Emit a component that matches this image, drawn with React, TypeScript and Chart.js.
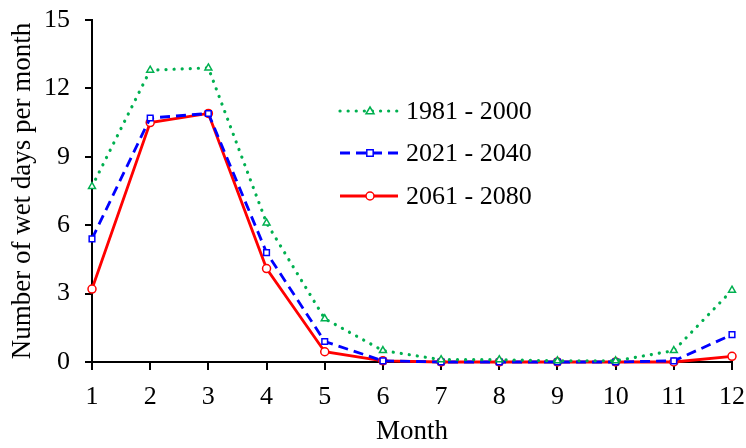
import React, { useEffect, useRef } from "react";
import { Chart, registerables } from "chart.js";
Chart.register(...registerables);

const months = ["1", "2", "3", "4", "5", "6", "7", "8", "9", "10", "11", "12"];
const seriesNames = ["1981 - 2000", "2021 - 2040", "2061 - 2080"];
const period1981 = [7.7, 12.8, 12.9, 6.1, 1.9, 0.5, 0.1, 0.1, 0.05, 0.05, 0.5, 3.15];
const period2021 = [5.4, 10.7, 10.9, 4.8, 0.9, 0.05, 0, 0, 0, 0, 0.05, 1.2];
const period2061 = [3.2, 10.5, 10.9, 4.1, 0.45, 0.05, 0, 0, 0, 0, 0, 0.25];
const yTicks = [0, 3, 6, 9, 12, 15];

const FONT = "'Liberation Serif', 'Times New Roman', serif";

const styles = [
  { color: "#00B050", dash: [0.1, 8], width: 3.2, cap: "round", point: "triangle" },
  { color: "#0000FF", dash: [10, 6], width: 2.8, cap: "butt", point: "rect" },
  { color: "#FF0000", dash: [], width: 2.8, cap: "butt", point: "circle" },
];

const legendPlugin = {
  id: "customLegend",
  afterDraw(chart: any) {
    const ctx = chart.ctx;
    const x0 = 340, x1 = 398;
    const ys = [111, 153, 196];
    ctx.save();
    styles.forEach((s, i) => {
      const y = ys[i];
      ctx.beginPath();
      ctx.strokeStyle = s.color;
      ctx.lineWidth = s.width;
      ctx.lineCap = s.cap;
      ctx.setLineDash(s.dash);
      ctx.moveTo(x0, y);
      ctx.lineTo(x1, y);
      ctx.stroke();
      ctx.setLineDash([]);
      ctx.lineCap = "butt";
      ctx.lineWidth = 1.5;
      ctx.fillStyle = "#fff";
      const cx = 370;
      const r = 4;
      ctx.beginPath();
      if (s.point === "triangle") {
        ctx.moveTo(cx, y - r);
        ctx.lineTo(cx + r, y + r * 0.7);
        ctx.lineTo(cx - r, y + r * 0.7);
        ctx.closePath();
      } else if (s.point === "rect") {
        ctx.rect(cx - r * 0.8, y - r * 0.8, r * 1.6, r * 1.6);
      } else {
        ctx.arc(cx, y, r, 0, Math.PI * 2);
      }
      ctx.fill();
      ctx.stroke();
      ctx.fillStyle = "#000";
      ctx.font = "26px " + FONT;
      ctx.textBaseline = "middle";
      ctx.textAlign = "left";
      ctx.fillText(seriesNames[i], 406, y + 1);
    });
    ctx.restore();
  },
};

export default function App() {
  const ref = useRef<HTMLCanvasElement>(null);
  useEffect(() => {
    if (!ref.current) return;
    const data = [period1981, period2021, period2061];
    const chart = new Chart(ref.current, {
      type: "line",
      data: {
        labels: months,
        datasets: data.map((d, i) => ({
          label: seriesNames[i],
          data: d,
          borderColor: styles[i].color,
          borderWidth: styles[i].width,
          borderDash: styles[i].dash,
          borderCapStyle: styles[i].cap as any,
          pointStyle: styles[i].point as any,
          pointRadius: 4,
          pointBorderWidth: 1.5,
          pointBackgroundColor: "#fff",
          pointBorderColor: styles[i].color,
          tension: 0,
          fill: false,
          clip: false as any,
        })),
      },
      options: {
        animation: false,
        responsive: false,
        events: [],
        layout: { padding: { top: 20, right: 14, left: 0, bottom: 0 } },
        plugins: { legend: { display: false }, tooltip: { enabled: false } },
        scales: {
          x: {
            type: "category",
            offset: false,
            grid: { drawOnChartArea: false, drawTicks: true, tickLength: 8, color: "#000", lineWidth: 2 },
            border: { display: true, color: "#000", width: 2 },
            ticks: { color: "#000", font: { family: FONT, size: 26 }, padding: 12, maxRotation: 0, autoSkip: false },
            title: { display: true, text: "Month", color: "#000", font: { family: FONT, size: 27 }, padding: { top: 0, bottom: 0 } },
            afterFit(scale: any) {
              scale.height = 86;
              scale.paddingLeft = 0;
              scale.paddingRight = 0;
            },
          },
          y: {
            min: 0,
            max: 15,
            afterBuildTicks(scale: any) { scale.ticks = yTicks.map((v) => ({ value: v })); },
            grid: { drawOnChartArea: false, drawTicks: true, tickLength: 7, color: "#000", lineWidth: 2 },
            border: { display: true, color: "#000", width: 2 },
            ticks: { color: "#000", font: { family: FONT, size: 26 }, padding: 15 },
            title: { display: true, text: "Number of wet days per month", color: "#000", font: { family: FONT, size: 27 }, padding: { top: 7, bottom: 0 } },
            afterFit(scale: any) {
              scale.width = 92;
              scale.paddingTop = 0;
              scale.paddingBottom = 0;
            },
          },
        },
      },
      plugins: [legendPlugin],
    });
    return () => chart.destroy();
  }, []);
  return (
    <div style={{ position: "fixed", left: 0, top: 0, width: 746, height: 448, background: "#fff" }}>
      <canvas ref={ref} width={746} height={448} style={{ width: 746, height: 448 }} />
    </div>
  );
}
